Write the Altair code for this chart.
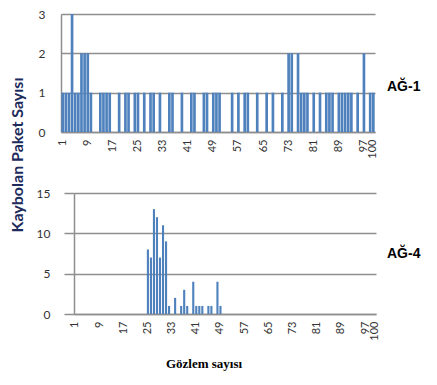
import altair as alt
import pandas as pd

obs = list(range(1, 101))
tick_values = [1, 9, 17, 25, 33, 41, 49, 57, 65, 73, 81, 89, 97, 100]

ag1 = [1, 1, 1, 3, 1, 1, 2, 2, 2, 1,
       0, 0, 1, 1, 1, 1, 0, 0, 1, 0,
       1, 1, 0, 1, 1, 0, 1, 0, 1, 1,
       0, 1, 0, 0, 1, 1, 0, 0, 1, 0,
       0, 1, 1, 0, 0, 1, 1, 0, 1, 1,
       1, 0, 0, 0, 1, 0, 1, 0, 1, 1,
       0, 0, 1, 0, 0, 1, 0, 1, 0, 0,
       1, 0, 2, 2, 0, 2, 1, 1, 1, 0,
       1, 0, 1, 0, 1, 1, 1, 0, 1, 1,
       1, 1, 1, 0, 1, 0, 2, 0, 1, 1]

ag4 = [0, 0, 0, 0, 0, 0, 0, 0, 0, 0,
       0, 0, 0, 0, 0, 0, 0, 0, 0, 0,
       0, 0, 0, 0, 8, 7, 13, 12, 7, 11,
       9, 1, 0, 2, 0, 1, 3, 1, 0, 4,
       1, 1, 1, 0, 1, 1, 0, 4, 1, 0,
       0, 0, 0, 0, 0, 0, 0, 0, 0, 0,
       0, 0, 0, 0, 0, 0, 0, 0, 0, 0,
       0, 0, 0, 0, 0, 0, 0, 0, 0, 0,
       0, 0, 0, 0, 0, 0, 0, 0, 0, 0,
       0, 0, 0, 0, 0, 0, 0, 0, 0, 0]

y_title = "Kaybolan Paket Sayısı"
x_title = "Gözlem sayısı"
label1 = "AĞ-1"
label4 = "AĞ-4"

BAR = "#4F81BD"
GRID = "#8E8E8E"
LBL = "#333333"
FONT = "Lato"

df1 = pd.DataFrame({"obs": obs, "v": ag1})
df4 = pd.DataFrame({"obs": obs, "v": ag4})


def x_enc(pad):
    return alt.X(
        "obs:O",
        scale=alt.Scale(paddingInner=pad, paddingOuter=0.1),
        axis=alt.Axis(
            values=tick_values, labelAngle=270, title=None, ticks=False,
            labelFont=FONT, labelFontSize=11, labelColor=LBL, labelPadding=7,
            domainColor=GRID, domainWidth=1.5, grid=False,
        ),
    )


top_bars = alt.Chart(df1).mark_bar(color=BAR).encode(
    x=x_enc(0.15),
    y=alt.Y(
        "v:Q",
        scale=alt.Scale(domain=[0, 3], nice=False),
        axis=alt.Axis(
            values=[0, 1, 2, 3], title=None, ticks=False, labelPadding=16,
            labelFont=FONT, labelFontSize=12, labelColor=LBL,
            grid=True, gridColor=GRID, gridWidth=1.5,
            domainColor=GRID, domainWidth=1.5,
        ),
    ),
)

top_label = alt.Chart(pd.DataFrame({"t": [label1]})).mark_text(
    align="left", baseline="middle", font="Liberation Sans", fontSize=14,
    fontWeight="bold", color="black",
).encode(text="t:N", x=alt.value(326), y=alt.value(73))

ytitle = alt.Chart(pd.DataFrame({"t": [y_title]})).mark_text(
    angle=270, align="center", baseline="middle", font=FONT, fontSize=16,
    fontWeight="bold", color="#1C2A5C",
).encode(text="t:N", x=alt.value(-43), y=alt.value(141))

top = alt.layer(top_bars, top_label, ytitle).properties(width=314, height=118)

bot_bars = alt.Chart(df4).mark_bar(color=BAR).encode(
    x=x_enc(0.3),
    y=alt.Y(
        "v:Q",
        scale=alt.Scale(domain=[0, 15], nice=False),
        axis=alt.Axis(
            values=[0, 5, 10, 15], title=None, tickSize=10, tickColor=GRID,
            tickWidth=1.5, labelPadding=14,
            labelFont=FONT, labelFontSize=12, labelColor=LBL,
            grid=True, gridColor=GRID, gridWidth=1.5,
            domainColor=GRID, domainWidth=1.5,
        ),
    ),
)

bot_label = alt.Chart(pd.DataFrame({"t": [label4]})).mark_text(
    align="left", baseline="middle", font="Liberation Sans", fontSize=14,
    fontWeight="bold", color="black",
).encode(text="t:N", x=alt.value(313), y=alt.value(61))

xtitle = alt.Chart(pd.DataFrame({"t": [x_title]})).mark_text(
    align="center", baseline="middle", font="Liberation Serif", fontSize=13,
    fontWeight="bold", color="black",
).encode(text="t:N", x=alt.value(130), y=alt.value(171))

bottom = alt.layer(bot_bars, bot_label, xtitle).properties(width=302, height=121)

spacer = alt.Chart(pd.DataFrame({"t": [""]})).mark_text().encode(
    text="t:N"
).properties(width=13, height=121)

bottom_row = alt.hconcat(spacer, bottom, spacing=0, bounds="flush")

chart = alt.vconcat(top, bottom_row, spacing=61, bounds="flush").properties(
    padding={"left": 2, "top": 0, "right": 0, "bottom": 0},
    background="white",
).configure_view(stroke=None)

chart.save("out.html", embed_options={"renderer": "svg", "actions": False})
